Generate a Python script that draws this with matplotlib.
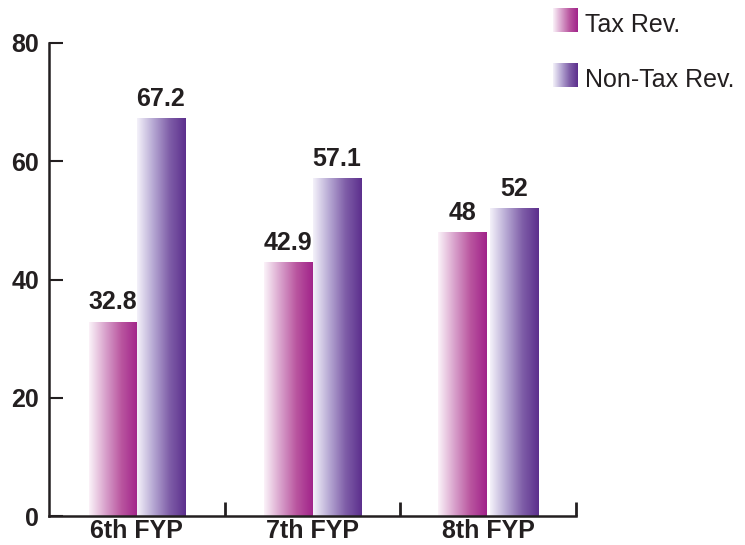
import matplotlib
matplotlib.use("Agg")
import matplotlib.pyplot as plt
import numpy as np
from matplotlib.colors import LinearSegmentedColormap

categories = ["6th FYP", "7th FYP", "8th FYP"]
tax_rev = [32.8, 42.9, 48]
nontax_rev = [67.2, 57.1, 52]
tax_labels = ["32.8", "42.9", "48"]
nontax_labels = ["67.2", "57.1", "52"]
series_names = ["Tax Rev.", "Non-Tax Rev."]
yticks = [0, 20, 40, 60, 80]

plt.rcParams['font.family'] = ['Liberation Sans', 'DejaVu Sans']

tax_cmap = LinearSegmentedColormap.from_list("tax", ["#fbf3f9", "#d9a2cc", "#b9559f", "#a1238a"])
non_cmap = LinearSegmentedColormap.from_list("non", ["#f4f2fa", "#b6a8d3", "#7f5ea8", "#5c2f8d"])

fig = plt.figure(figsize=(7.45, 5.45), dpi=100)
ax = fig.add_axes([49/745, 29/545, (576-49)/745, (516-43)/545])

x = np.arange(len(categories))
w = 0.275
gap = [0.0, 0.0, 0.017]
b1 = ax.bar(x - w/2 - np.array(gap)/2, tax_rev, w, color="none", edgecolor="none")
b2 = ax.bar(x + w/2 + np.array(gap)/2, nontax_rev, w, color="none", edgecolor="none")

grad = np.linspace(0, 1, 256).reshape(1, -1)
for bars, cmap, labels in [(b1, tax_cmap, tax_labels), (b2, non_cmap, nontax_labels)]:
    for bar, lab in zip(bars, labels):
        bx, by = bar.get_x(), bar.get_y()
        bw, bh = bar.get_width(), bar.get_height()
        ax.imshow(grad, cmap=cmap, extent=[bx, bx + bw, by, by + bh],
                  aspect="auto", zorder=2, interpolation="bilinear")
        ax.text(bx + bw/2, by + bh + 1.3, lab, ha="center", va="bottom",
                fontsize=18, fontweight="bold", color="#231f20")

ax.set_xlim(-0.5, 2.5)
ax.set_ylim(0, 80)
ax.set_yticks(yticks)
ax.set_yticklabels([str(t) for t in yticks], fontsize=18, fontweight="bold", color="#231f20")
ax.set_xticks(x)
ax.set_xticklabels(categories, fontsize=18, fontweight="bold", color="#231f20")
ax.tick_params(axis="x", length=0, pad=2)
ax.set_xticks([0.5, 1.5, 2.5], minor=True)
ax.tick_params(axis="x", which="minor", direction="in", length=10, width=2, color="#231f20")
ax.tick_params(axis="y", direction="in", length=10, width=1.5, color="#231f20", pad=7)
for s in ["top", "right"]:
    ax.spines[s].set_visible(False)
for s in ["left", "bottom"]:
    ax.spines[s].set_linewidth(1.8)
    ax.spines[s].set_color("#231f20")

# legend
for i, (name, cmap) in enumerate(zip(series_names, [tax_cmap, non_cmap])):
    yc = [20, 75][i]
    lax = fig.add_axes([553/745, 1 - (yc + 12)/545, 25/745, 24/545])
    lax.imshow(grad, cmap=cmap, aspect="auto", interpolation="bilinear")
    lax.axis("off")
    fig.text(585/745, 1 - (yc + 5)/545, name, fontsize=18, color="#231f20",
             ha="left", va="center")

fig.savefig("out.png", dpi=100)
